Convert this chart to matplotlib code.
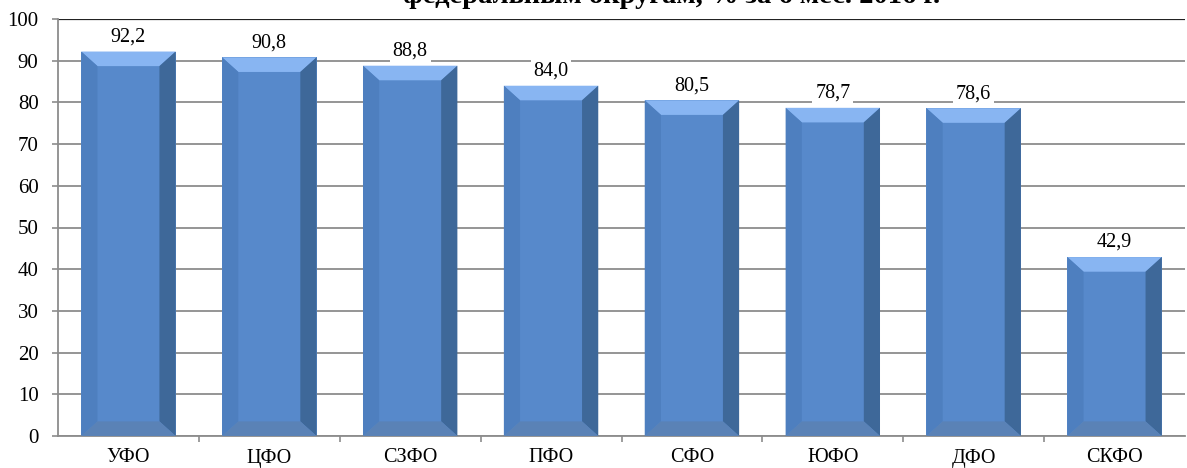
import matplotlib
matplotlib.use('Agg')
import matplotlib.pyplot as plt
from matplotlib.patches import Polygon

categories = ['УФО', 'ЦФО', 'СЗФО', 'ПФО', 'СФО', 'ЮФО', 'ДФО', 'СКФО']
values = [92.2, 90.8, 88.8, 84.0, 80.5, 78.7, 78.6, 42.9]
yticks = [0, 10, 20, 30, 40, 50, 60, 70, 80, 90, 100]
title = 'федеральным округам, % за 6 мес. 2016 г.'

plt.rcParams['font.family'] = ['Liberation Serif', 'DejaVu Serif']

fig = plt.figure(figsize=(11.87, 4.68), dpi=100)
ax = fig.add_axes([58 / 1187, 1 - 436 / 468, 1 - 58 / 1187 - 2 / 1187, 417 / 468])

width = 0.67
bx = 0.115   # bevel width in category units
by = 3.5     # bevel height in data units

front = '#5789cb'
top_c = '#88b5f2'
left_c = '#4e7fbf'
right_c = '#3e6899'
bottom_c = '#5a82b6'

ax.set_xlim(-0.5, len(categories) - 0.5)
ax.set_ylim(0, 100)

for i, v in enumerate(values):
    x0, x1 = i - width / 2, i + width / 2
    ax.bar(i, v, width=width, color=front, zorder=2, linewidth=0)
    polys = [
        ([(x0, v), (x1, v), (x1 - bx, v - by), (x0 + bx, v - by)], top_c),
        ([(x0, 0), (x0, v), (x0 + bx, v - by), (x0 + bx, by)], left_c),
        ([(x1, 0), (x1, v), (x1 - bx, v - by), (x1 - bx, by)], right_c),
        ([(x0, 0), (x1, 0), (x1 - bx, by), (x0 + bx, by)], bottom_c),
    ]
    for pts, c in polys:
        ax.add_patch(Polygon(pts, closed=True, facecolor=c, edgecolor='none', zorder=3))
    ax.text(i, v + 3.5, f'{v:.1f}'.replace('.', ','), ha='center', va='center',
            fontsize=14.5, zorder=4,
            bbox=dict(facecolor='white', edgecolor='none', pad=2))

ax.set_yticks(yticks)
ax.set_yticklabels([str(t) for t in yticks], fontsize=15)
ax.yaxis.grid(True, color='#8c8c8c', linewidth=1.3, zorder=1)
ax.set_axisbelow(True)
ax.axhline(100, color='#222222', linewidth=1.6, zorder=1)

ax.set_xticks(range(len(categories)))
ax.set_xticklabels(categories, fontsize=14.5)
ax.tick_params(axis='x', length=0, pad=9)
ax.set_xticks([i + 0.5 for i in range(len(categories) - 1)], minor=True)
ax.tick_params(axis='x', which='minor', length=4, color='#8c8c8c', width=1.2)
ax.tick_params(axis='y', length=4, color='#8c8c8c', width=1.2, pad=10)

for s in ['top', 'right']:
    ax.spines[s].set_visible(False)
for s in ['left', 'bottom']:
    ax.spines[s].set_color('#8c8c8c')
    ax.spines[s].set_linewidth(1.3)

fig.text(0.566, 1 - 3 / 468, title, ha='center', va='baseline',
         fontsize=20.5, fontweight='bold')

fig.savefig('out.png', dpi=100)
